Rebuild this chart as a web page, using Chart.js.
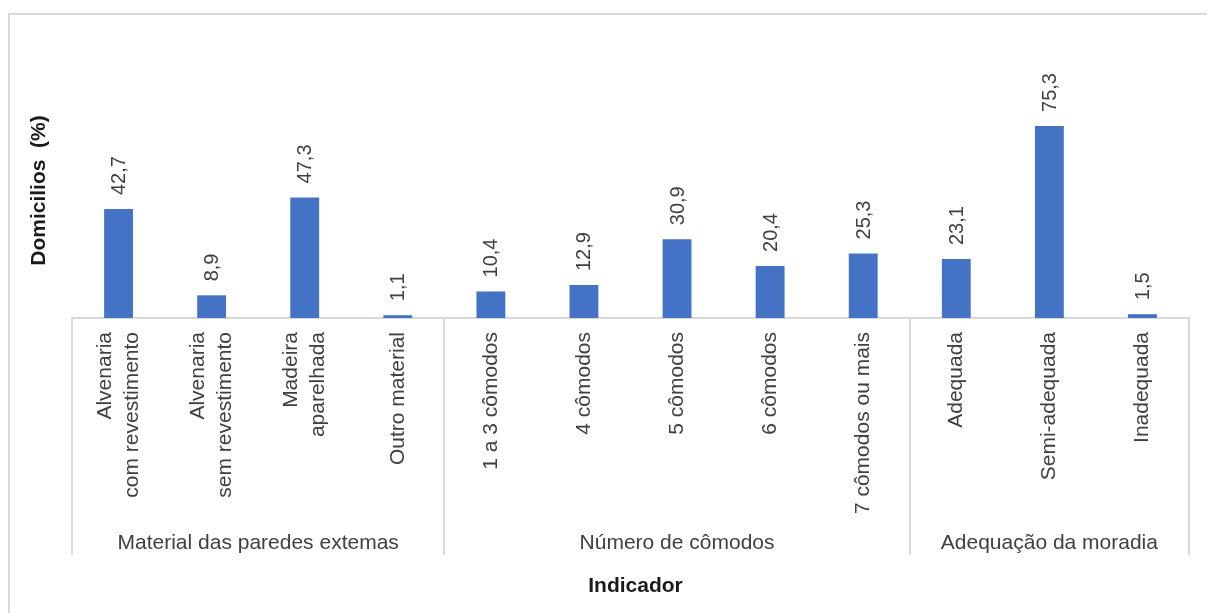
<!DOCTYPE html>
<html>
<head>
<meta charset="utf-8">
<script src="https://cdn.jsdelivr.net/npm/chart.js@4.4.1/dist/chart.umd.min.js"></script>
<style>
  html, body { margin: 0; padding: 0; background: #fff; }
  #wrap { width: 1207px; height: 613px; }
</style>
</head>
<body>
<div id="wrap"><canvas id="chart" width="1207" height="613"></canvas></div>
<script>
// categories (multi-line labels)
const categories = [
  ["Alvenaria", "com revestimento"],
  ["Alvenaria", "sem revestimento"],
  ["Madeira", "aparelhada"],
  "Outro material",
  "1 a 3 cômodos",
  "4 cômodos",
  "5 cômodos",
  "6 cômodos",
  "7 cômodos ou mais",
  "Adequada",
  "Semi-adequada",
  "Inadequada"
];
const values = [42.7, 8.9, 47.3, 1.1, 10.4, 12.9, 30.9, 20.4, 25.3, 23.1, 75.3, 1.5];

// groups of the second level
const groupLabels = ["Material das paredes extemas", "Número de cômodos", "Adequação da moradia"];
const groupSizes = [4, 5, 3];

const yTitle = "Domicilios  (%)";
const xTitle = "Indicador";

const FONT = "'Liberation Sans', Arial, sans-serif";
const GRID = "#d9d9d9";

const fmt = v => v.toFixed(1).replace(".", ",");

// outer frame, category labels, group separators, group names, x title
const decorations = {
  id: "decorations",
  beforeDraw(chart) {
    const ctx = chart.ctx;
    ctx.save();
    ctx.strokeStyle = GRID;
    ctx.lineWidth = 2;
    ctx.beginPath();
    ctx.moveTo(9, 613);
    ctx.lineTo(9, 14);
    ctx.lineTo(1207, 14);
    ctx.stroke();
    ctx.restore();
  },
  afterDraw(chart) {
    const ctx = chart.ctx;
    const x = chart.scales.x;
    const area = chart.chartArea;
    ctx.save();

    // rotated category labels, lines centred on the bar
    ctx.fillStyle = "#404040";
    ctx.font = "21px " + FONT;
    ctx.textAlign = "right";
    ctx.textBaseline = "middle";
    const lh = 27;
    categories.forEach((c, i) => {
      const lines = Array.isArray(c) ? c : [c];
      const cx = x.getPixelForValue(i);
      lines.forEach((ln, j) => {
        ctx.save();
        ctx.translate(cx + (j - (lines.length - 1) / 2) * lh, area.bottom + 14);
        ctx.rotate(-Math.PI / 2);
        ctx.fillText(ln, 0, 0);
        ctx.restore();
      });
    });

    // separators between groups
    ctx.strokeStyle = GRID;
    ctx.lineWidth = 2;
    let start = 0;
    const edges = [start];
    groupSizes.forEach(n => { start += n; edges.push(start); });
    edges.forEach(e => {
      const px = Math.round(x.getPixelForValue(e - 0.5));
      ctx.beginPath();
      ctx.moveTo(px, area.bottom);
      ctx.lineTo(px, 555);
      ctx.stroke();
    });

    ctx.textAlign = "center";
    groupLabels.forEach((g, i) => {
      const a = x.getPixelForValue(edges[i] - 0.5);
      const b = x.getPixelForValue(edges[i + 1] - 0.5);
      ctx.fillText(g, (a + b) / 2, 543);
    });

    ctx.fillStyle = "#1a1a1a";
    ctx.font = "bold 21px " + FONT;
    ctx.fillText(xTitle, (area.left + area.right) / 2 + 5, 586);
    ctx.restore();
  }
};

// rotated value labels above bars
const valueLabels = {
  id: "valueLabels",
  afterDatasetsDraw(chart) {
    const ctx = chart.ctx;
    const meta = chart.getDatasetMeta(0);
    ctx.save();
    ctx.fillStyle = "#404040";
    ctx.font = "20px " + FONT;
    ctx.textAlign = "left";
    ctx.textBaseline = "middle";
    meta.data.forEach((bar, i) => {
      ctx.save();
      ctx.translate(bar.x + 1, bar.y - 14);
      ctx.rotate(-Math.PI / 2);
      ctx.fillText(fmt(values[i]), 0, 0);
      ctx.restore();
    });
    ctx.restore();
  }
};

new Chart(document.getElementById("chart"), {
  type: "bar",
  data: {
    labels: categories,
    datasets: [{
      data: values,
      backgroundColor: "#4472c4",
      borderWidth: 0,
      barPercentage: 0.31,
      categoryPercentage: 1
    }]
  },
  options: {
    responsive: false,
    animation: false,
    layout: { padding: { left: 0, top: 63, right: 18, bottom: 0 } },
    plugins: { legend: { display: false }, tooltip: { enabled: false } },
    scales: {
      x: {
        grid: { display: false, drawTicks: false },
        border: { display: true, color: GRID, width: 2 },
        ticks: { display: false },
        afterFit(scale) { scale.height = 295; }
      },
      y: {
        min: 0,
        max: 100,
        grid: { display: false, drawTicks: false },
        border: { display: false },
        ticks: { display: false },
        title: {
          display: true,
          text: yTitle,
          color: "#1a1a1a",
          font: { family: FONT, size: 21, weight: "bold" },
          padding: { top: 27, bottom: 0 }
        },
        afterFit(scale) { scale.width = 72; }
      }
    }
  },
  plugins: [decorations, valueLabels]
});
</script>
</body>
</html>
